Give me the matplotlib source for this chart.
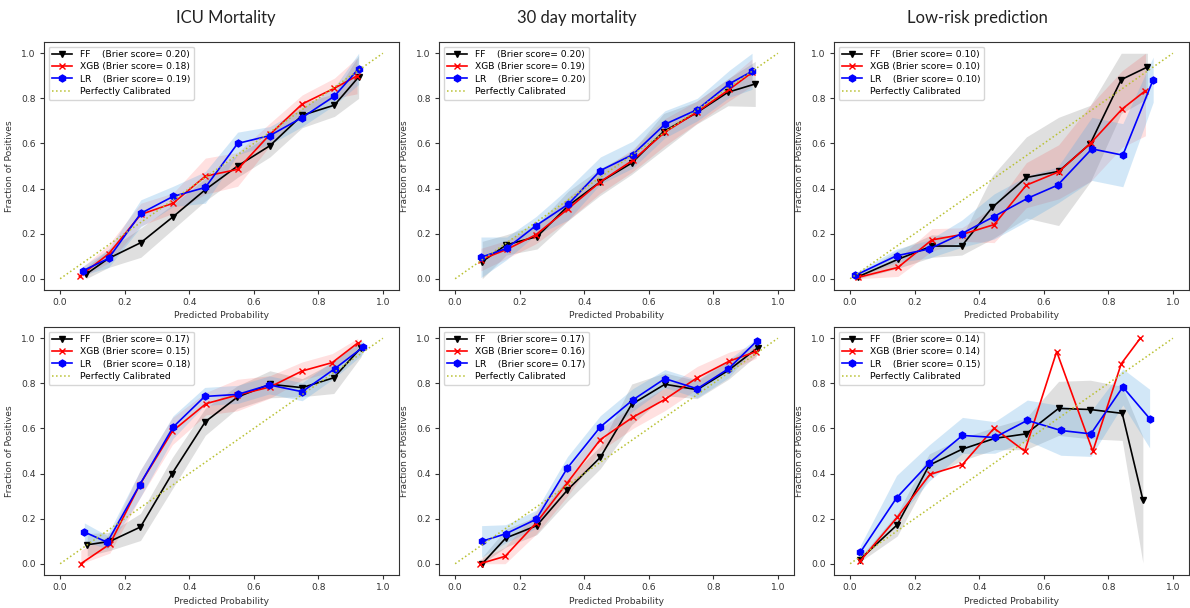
import matplotlib
matplotlib.use("Agg")
import numpy as np
import matplotlib.pyplot as plt

col_titles = ["ICU Mortality", "30 day mortality", "Low-risk prediction"]
model_names = ["FF", "XGB", "LR"]

# panel 1: ICU mortality (top)
p1_ff_x = [0.08, 0.15, 0.25, 0.35, 0.45, 0.55, 0.65, 0.75, 0.85, 0.925]
p1_ff_y = [0.02, 0.09, 0.16, 0.275, 0.395, 0.50, 0.59, 0.725, 0.77, 0.895]
p1_ff_e = [0.03, 0.04, 0.065, 0.055, 0.05, 0.05, 0.05, 0.055, 0.05, 0.095]
p1_xgb_x = [0.06, 0.15, 0.25, 0.35, 0.45, 0.55, 0.65, 0.75, 0.85, 0.92]
p1_xgb_y = [0.01, 0.11, 0.285, 0.335, 0.455, 0.485, 0.64, 0.775, 0.845, 0.90]
p1_xgb_e = [0.03, 0.04, 0.05, 0.045, 0.08, 0.075, 0.05, 0.04, 0.045, 0.08]
p1_lr_x = [0.07, 0.15, 0.25, 0.35, 0.45, 0.55, 0.65, 0.75, 0.85, 0.925]
p1_lr_y = [0.035, 0.09, 0.29, 0.365, 0.405, 0.60, 0.635, 0.715, 0.81, 0.932]
p1_lr_e = [0.02, 0.04, 0.06, 0.045, 0.07, 0.05, 0.04, 0.04, 0.04, 0.07]
p1_brier = [0.20, 0.18, 0.19]

# panel 2: 30 day mortality (top)
p2_ff_x = [0.084, 0.158, 0.254, 0.35, 0.448, 0.547, 0.646, 0.747, 0.845, 0.93]
p2_ff_y = [0.076, 0.15, 0.187, 0.323, 0.428, 0.513, 0.653, 0.735, 0.827, 0.864]
p2_ff_e = [0.09, 0.045, 0.055, 0.065, 0.06, 0.05, 0.08, 0.05, 0.06, 0.1]
p2_xgb_x = [0.08, 0.16, 0.25, 0.35, 0.45, 0.55, 0.65, 0.75, 0.85, 0.92]
p2_xgb_y = [0.085, 0.13, 0.195, 0.31, 0.43, 0.525, 0.65, 0.74, 0.84, 0.915]
p2_xgb_e = [0.05, 0.04, 0.04, 0.05, 0.05, 0.05, 0.06, 0.05, 0.05, 0.06]
p2_lr_x = [0.08, 0.16, 0.25, 0.35, 0.45, 0.55, 0.65, 0.75, 0.85, 0.92]
p2_lr_y = [0.095, 0.135, 0.235, 0.33, 0.48, 0.55, 0.685, 0.75, 0.865, 0.92]
p2_lr_e = [0.09, 0.05, 0.04, 0.07, 0.06, 0.06, 0.06, 0.05, 0.06, 0.08]
p2_brier = [0.20, 0.19, 0.20]

# panel 3: low-risk prediction (top)
p3_ff_x = [0.025, 0.148, 0.253, 0.346, 0.44, 0.546, 0.646, 0.744, 0.84, 0.921]
p3_ff_y = [0.009, 0.086, 0.145, 0.145, 0.316, 0.449, 0.476, 0.599, 0.883, 0.939]
p3_ff_e = [0.01, 0.04, 0.05, 0.04, 0.14, 0.18, 0.24, 0.17, 0.15, 0.14]
p3_xgb_x = [0.025, 0.148, 0.253, 0.346, 0.446, 0.546, 0.646, 0.747, 0.843, 0.915]
p3_xgb_y = [0.006, 0.05, 0.172, 0.196, 0.24, 0.415, 0.474, 0.604, 0.753, 0.834]
p3_xgb_e = [0.01, 0.04, 0.05, 0.03, 0.08, 0.1, 0.12, 0.17, 0.17, 0.2]
p3_lr_x = [0.016, 0.144, 0.245, 0.346, 0.446, 0.55, 0.643, 0.749, 0.845, 0.939]
p3_lr_y = [0.015, 0.102, 0.132, 0.2, 0.276, 0.357, 0.415, 0.576, 0.548, 0.883]
p3_lr_e = [0.01, 0.03, 0.04, 0.06, 0.1, 0.1, 0.08, 0.14, 0.14, 0.1]
p3_brier = [0.10, 0.10, 0.10]

# panel 4: ICU mortality (bottom)
p4_ff_x = [0.084, 0.154, 0.249, 0.347, 0.45, 0.549, 0.65, 0.75, 0.848, 0.933]
p4_ff_y = [0.084, 0.099, 0.163, 0.40, 0.63, 0.739, 0.796, 0.781, 0.825, 0.959]
p4_ff_e = [0.05, 0.04, 0.06, 0.07, 0.06, 0.05, 0.06, 0.04, 0.07, 0.04]
p4_xgb_x = [0.064, 0.154, 0.247, 0.348, 0.452, 0.549, 0.65, 0.75, 0.843, 0.922]
p4_xgb_y = [0.0, 0.087, 0.351, 0.588, 0.71, 0.748, 0.784, 0.855, 0.892, 0.979]
p4_xgb_e = [0.06, 0.04, 0.06, 0.06, 0.05, 0.07, 0.05, 0.04, 0.04, 0.03]
p4_lr_x = [0.075, 0.146, 0.247, 0.35, 0.448, 0.55, 0.648, 0.75, 0.851, 0.938]
p4_lr_y = [0.141, 0.095, 0.351, 0.606, 0.742, 0.751, 0.793, 0.763, 0.865, 0.96]
p4_lr_e = [0.04, 0.03, 0.06, 0.05, 0.04, 0.04, 0.04, 0.04, 0.04, 0.03]
p4_brier = [0.17, 0.15, 0.18]

# panel 5: 30 day mortality (bottom)
p5_ff_x = [0.084, 0.157, 0.253, 0.348, 0.45, 0.547, 0.65, 0.75, 0.847, 0.937]
p5_ff_y = [0.0, 0.114, 0.169, 0.327, 0.472, 0.707, 0.796, 0.772, 0.858, 0.957]
p5_ff_e = [0.03, 0.04, 0.04, 0.05, 0.05, 0.09, 0.05, 0.04, 0.04, 0.03]
p5_xgb_x = [0.077, 0.155, 0.251, 0.346, 0.45, 0.551, 0.65, 0.75, 0.85, 0.933]
p5_xgb_y = [0.0, 0.033, 0.181, 0.356, 0.551, 0.65, 0.729, 0.825, 0.899, 0.941]
p5_xgb_e = [0.02, 0.04, 0.05, 0.06, 0.05, 0.05, 0.05, 0.05, 0.04, 0.03]
p5_lr_x = [0.082, 0.157, 0.251, 0.348, 0.45, 0.55, 0.65, 0.75, 0.847, 0.935]
p5_lr_y = [0.099, 0.133, 0.197, 0.425, 0.607, 0.726, 0.821, 0.776, 0.865, 0.988]
p5_lr_e = [0.07, 0.04, 0.04, 0.05, 0.05, 0.05, 0.04, 0.04, 0.04, 0.02]
p5_brier = [0.17, 0.16, 0.17]

# panel 6: low-risk prediction (bottom)
p6_ff_x = [0.03, 0.146, 0.245, 0.347, 0.448, 0.545, 0.646, 0.744, 0.843, 0.907]
p6_ff_y = [0.018, 0.173, 0.437, 0.508, 0.556, 0.576, 0.689, 0.684, 0.667, 0.284]
p6_ff_e = [0.01, 0.05, 0.05, 0.05, 0.05, 0.07, 0.12, 0.13, 0.12, 0.28]
p6_xgb_x = [0.03, 0.146, 0.247, 0.348, 0.446, 0.541, 0.64, 0.752, 0.84, 0.899]
p6_xgb_y = [0.01, 0.206, 0.396, 0.44, 0.601, 0.499, 0.941, 0.499, 0.887, 1.0]
p6_xgb_e = [0.0, 0.0, 0.0, 0.0, 0.0, 0.0, 0.0, 0.0, 0.0, 0.0]
p6_lr_x = [0.032, 0.144, 0.245, 0.348, 0.448, 0.549, 0.653, 0.746, 0.845, 0.928]
p6_lr_y = [0.052, 0.292, 0.447, 0.569, 0.56, 0.636, 0.591, 0.576, 0.784, 0.644]
p6_lr_e = [0.03, 0.1, 0.08, 0.08, 0.07, 0.09, 0.11, 0.1, 0.08, 0.13]
p6_brier = [0.14, 0.14, 0.15]

panels = [
    [(p1_ff_x, p1_ff_y, p1_ff_e), (p1_xgb_x, p1_xgb_y, p1_xgb_e), (p1_lr_x, p1_lr_y, p1_lr_e), p1_brier],
    [(p2_ff_x, p2_ff_y, p2_ff_e), (p2_xgb_x, p2_xgb_y, p2_xgb_e), (p2_lr_x, p2_lr_y, p2_lr_e), p2_brier],
    [(p3_ff_x, p3_ff_y, p3_ff_e), (p3_xgb_x, p3_xgb_y, p3_xgb_e), (p3_lr_x, p3_lr_y, p3_lr_e), p3_brier],
    [(p4_ff_x, p4_ff_y, p4_ff_e), (p4_xgb_x, p4_xgb_y, p4_xgb_e), (p4_lr_x, p4_lr_y, p4_lr_e), p4_brier],
    [(p5_ff_x, p5_ff_y, p5_ff_e), (p5_xgb_x, p5_xgb_y, p5_xgb_e), (p5_lr_x, p5_lr_y, p5_lr_e), p5_brier],
    [(p6_ff_x, p6_ff_y, p6_ff_e), (p6_xgb_x, p6_xgb_y, p6_xgb_e), (p6_lr_x, p6_lr_y, p6_lr_e), p6_brier],
]

line_cols = ["black", "red", "blue"]
band_cols = ["grey", "red", "#5facE4"]
band_alpha = [0.25, 0.12, 0.28]
markers = ["v", "x", "h"]
pads = ["   ", "", "   "]

fs = 6.6
plt.rcParams["font.size"] = fs
plt.rcParams["axes.edgecolor"] = "#333333"
plt.rcParams["xtick.color"] = "#333333"
plt.rcParams["ytick.color"] = "#333333"

fig = plt.figure(figsize=(11.9, 6.08), dpi=100)
lefts = [44 / 1190, 439 / 1190, 834 / 1190]
bottoms = [(608 - 290) / 608, (608 - 575) / 608]
w = 355 / 1190
h = 248 / 608

for i, pan in enumerate(panels):
    r, c = divmod(i, 3)
    ax = fig.add_axes([lefts[c], bottoms[r], w, h])
    brier = pan[3]
    for k in range(3):
        x, y, e = (np.array(v) for v in pan[k])
        if e.max() > 0:
            ax.fill_between(x, np.clip(y - e, 0, 1), np.clip(y + e, 0, 1),
                            color=band_cols[k], alpha=band_alpha[k], lw=0)
    for k in range(3):
        x, y, e = pan[k]
        ax.plot(x, y, color=line_cols[k], marker=markers[k], lw=1.2, ms=5,
                label="%s%s (Brier score= %.2f)" % (model_names[k], pads[k], brier[k]))
    ax.plot([0, 1], [0, 1], ":", color="#b8c030", lw=1.1, label="Perfectly Calibrated")
    ax.set_xticks(np.arange(0, 1.01, 0.2))
    ax.set_yticks(np.arange(0, 1.01, 0.2))
    ax.set_xlim(-0.05, 1.05)
    ax.set_ylim(-0.05, 1.05)
    ax.set_xlabel("Predicted Probability", labelpad=3, color="#333333")
    ax.set_ylabel("Fraction of Positives", labelpad=5, color="#333333")
    ax.tick_params(length=3, pad=3)
    ax.legend(loc="upper left", fontsize=fs, handlelength=2.2, borderpad=0.4,
              labelspacing=0.35, handletextpad=0.8)

title_x = [226 / 1190, 577 / 1190, 977 / 1190]
for t, tx in zip(col_titles, title_x):
    fig.text(tx, 1 - 18 / 608, t, ha="center", va="center", fontsize=12,
             family="Lato", color="#222222")

fig.savefig("out.png", dpi=100)
